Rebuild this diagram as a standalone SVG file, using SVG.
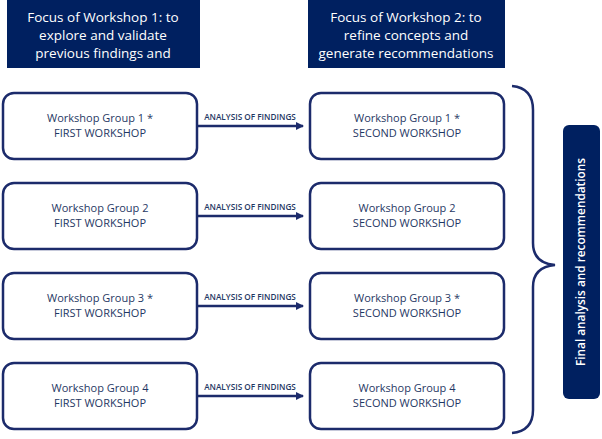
<svg xmlns="http://www.w3.org/2000/svg" width="602" height="439" viewBox="0 0 602 439">
<style>
.hdr{fill:#002060}
.hdrt{font-family:"Open Sans","Liberation Sans",sans-serif;font-size:13.5px;fill:#fff;text-anchor:middle}
.box{fill:#fff;stroke:#1c2b6b;stroke-width:2.5}
.bt{font-family:"Open Sans","Liberation Sans",sans-serif;font-size:11px;fill:#1f3864;text-anchor:middle}
.lbl{font-family:"Open Sans","Liberation Sans",sans-serif;font-size:8.2px;font-weight:600;fill:#1f3864;text-anchor:middle}
.conn{stroke:#1c2b6b;stroke-width:2.5;fill:none}
.ft{font-family:"Open Sans","Liberation Sans",sans-serif;font-size:11.8px;font-weight:600;fill:#fff;text-anchor:middle}
</style>
<defs>
<marker id="ah" markerWidth="10" markerHeight="10" refX="7" refY="4" orient="auto" markerUnits="userSpaceOnUse">
<path d="M0,0 L8,4 L0,8 z" fill="#1c2b6b"/>
</marker>
</defs>
<rect width="602" height="439" fill="#fff"/>
<g id="header1">
<rect class="hdr" x="7" y="0" width="193" height="68"/>
<text class="hdrt" x="103" y="22">Focus of Workshop 1: to</text>
<text class="hdrt" x="103" y="40">explore and validate</text>
<text class="hdrt" x="103" y="58">previous findings and</text>
</g>
<g id="header2">
<rect class="hdr" x="308" y="0" width="197" height="68"/>
<text class="hdrt" x="406" y="22">Focus of Workshop 2: to</text>
<text class="hdrt" x="406" y="40">refine concepts and</text>
<text class="hdrt" x="406" y="58">generate recommendations</text>
</g>
<g id="g1a"><rect class="box" x="3" y="93" width="194" height="66" rx="11"/><text class="bt" x="100" y="122">Workshop Group 1 *</text><text class="bt" x="100" y="137">FIRST WORKSHOP</text></g>
<g id="g2a"><rect class="box" x="3" y="183" width="194" height="66" rx="11"/><text class="bt" x="100" y="212">Workshop Group 2</text><text class="bt" x="100" y="227">FIRST WORKSHOP</text></g>
<g id="g3a"><rect class="box" x="3" y="273" width="194" height="66" rx="11"/><text class="bt" x="100" y="302">Workshop Group 3 *</text><text class="bt" x="100" y="317">FIRST WORKSHOP</text></g>
<g id="g4a"><rect class="box" x="3" y="363" width="194" height="66" rx="11"/><text class="bt" x="100" y="392">Workshop Group 4</text><text class="bt" x="100" y="407">FIRST WORKSHOP</text></g>
<g id="g1b"><rect class="box" x="310" y="93" width="194" height="66" rx="11"/><text class="bt" x="407" y="122">Workshop Group 1 *</text><text class="bt" x="407" y="137">SECOND WORKSHOP</text></g>
<g id="g2b"><rect class="box" x="310" y="183" width="194" height="66" rx="11"/><text class="bt" x="407" y="212">Workshop Group 2</text><text class="bt" x="407" y="227">SECOND WORKSHOP</text></g>
<g id="g3b"><rect class="box" x="310" y="273" width="194" height="66" rx="11"/><text class="bt" x="407" y="302">Workshop Group 3 *</text><text class="bt" x="407" y="317">SECOND WORKSHOP</text></g>
<g id="g4b"><rect class="box" x="310" y="363" width="194" height="66" rx="11"/><text class="bt" x="407" y="392">Workshop Group 4</text><text class="bt" x="407" y="407">SECOND WORKSHOP</text></g>
<g id="final">
<rect class="hdr" x="563" y="125" width="37" height="274" rx="6"/>
<text class="ft" transform="translate(585,262) rotate(-90)">Final analysis and recommendations</text>
</g>
<g id="connectors">
<line class="conn" x1="197" y1="126" x2="303" y2="126" marker-end="url(#ah)"/>
<line class="conn" x1="197" y1="216" x2="303" y2="216" marker-end="url(#ah)"/>
<line class="conn" x1="197" y1="306" x2="303" y2="306" marker-end="url(#ah)"/>
<line class="conn" x1="197" y1="396" x2="303" y2="396" marker-end="url(#ah)"/>
<text class="lbl" x="250" y="120">ANALYSIS OF FINDINGS</text>
<text class="lbl" x="250" y="210">ANALYSIS OF FINDINGS</text>
<text class="lbl" x="250" y="300">ANALYSIS OF FINDINGS</text>
<text class="lbl" x="250" y="390">ANALYSIS OF FINDINGS</text>
<path class="conn" d="M512,86 Q533,88 533,110 L533,243 Q533,263 555,265 Q533,267 533,287 L533,410 Q533,431 512,433"/>
</g>
</svg>
